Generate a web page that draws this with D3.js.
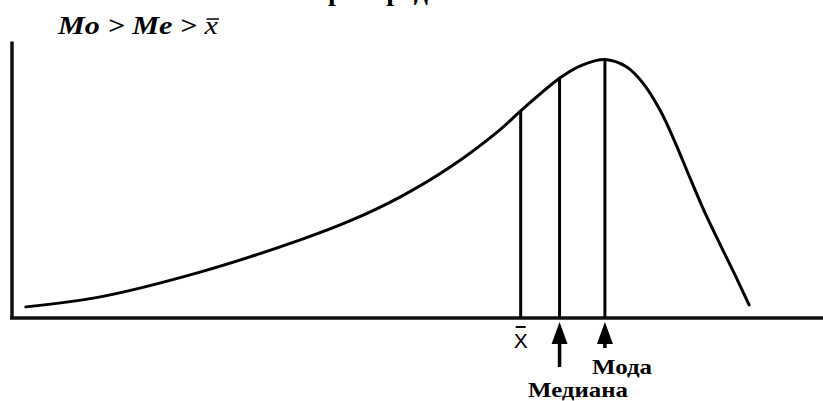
<!DOCTYPE html>
<html>
<head>
<meta charset="utf-8">
<script src="https://cdn.jsdelivr.net/npm/d3@7.9.0/dist/d3.min.js"></script>
<style>
  html, body { margin: 0; padding: 0; background: #fff; }
  svg { display: block; }
</style>
</head>
<body>
<svg id="chart" width="823" height="401"></svg>
<script>
// curve of a left-skewed distribution (x in 0..100, density in 0..1)
const curveX = [1.7, 10.9, 23.2, 35.6, 41.7, 47.9, 54.1, 60.2, 62.8, 67.8, 70.4, 73.2, 75.9, 77.9, 80.0, 81.85, 83.7, 85.56, 87.4, 89.26, 91.0];
const curveY = [0.04, 0.076, 0.165, 0.281, 0.349, 0.435, 0.543, 0.676, 0.745, 0.867, 0.91, 0.93, 0.903, 0.845, 0.748, 0.633, 0.504, 0.378, 0.266, 0.155, 0.047];

// mean, median, mode
const markNames = ["mean", "median", "mode"];
const markX = [62.8, 67.6, 73.2];
const markTop = [0.745, 0.867, 0.93];

const title = "Mo > Me > ";
const topWord = "распределения";
const medianLabel = "Медиана";
const modeLabel = "Мода";

const svg = d3.select("#chart");
const x = d3.scaleLinear().domain([0, 100]).range([12, 822]);
const y = d3.scaleLinear().domain([0, 1]).range([318, 40]);

// cut-off heading at the very top
svg.append("text")
  .attr("x", 328).attr("y", 0)
  .attr("font-family", "Liberation Serif, serif")
  .attr("font-weight", "bold")
  .attr("font-size", 28)
  .text(topWord);

// Mo > Me > x̄
const t = svg.append("text")
  .attr("x", 58).attr("y", 34)
  .attr("font-family", "Liberation Serif, serif")
  .attr("font-weight", "bold")
  .attr("font-style", "italic")
  .attr("font-size", 26)
  .attr("textLength", 160)
  .attr("lengthAdjust", "spacingAndGlyphs");
t.append("tspan").text(title);
t.append("tspan").attr("font-weight", "normal").text("x");
const ext = t.node().getExtentOfChar(title.length);
svg.append("line")
  .attr("x1", ext.x + 2).attr("x2", ext.x + ext.width + 1)
  .attr("y1", 19).attr("y2", 19)
  .attr("stroke", "#000").attr("stroke-width", 1.5);

// axes
svg.append("line")
  .attr("x1", x(0)).attr("x2", x(0))
  .attr("y1", y(0.995)).attr("y2", y(0))
  .attr("stroke", "#111").attr("stroke-width", 3.5);
svg.append("line")
  .attr("x1", x(0) - 2).attr("x2", 823)
  .attr("y1", y(0)).attr("y2", y(0))
  .attr("stroke", "#111").attr("stroke-width", 3.5);

// curve
const line = d3.line()
  .x((d, i) => x(curveX[i]))
  .y((d, i) => y(curveY[i]))
  .curve(d3.curveCatmullRom.alpha(0.5));
svg.append("path")
  .datum(curveX)
  .attr("d", line)
  .attr("fill", "none")
  .attr("stroke", "#000")
  .attr("stroke-width", 3)
  .attr("stroke-linecap", "round");

// vertical lines
svg.selectAll(".mark")
  .data(markNames)
  .join("line")
  .attr("class", "mark")
  .attr("x1", (d, i) => x(markX[i])).attr("x2", (d, i) => x(markX[i]))
  .attr("y1", (d, i) => y(markTop[i])).attr("y2", y(0))
  .attr("stroke", "#000").attr("stroke-width", 3);

// x̄ label
const mx = x(markX[0]);
svg.append("text")
  .attr("x", mx).attr("y", 348)
  .attr("text-anchor", "middle")
  .attr("font-family", "Liberation Sans, Arial, sans-serif")
  .attr("font-size", 21)
  .text("X");
svg.append("line")
  .attr("x1", mx - 5).attr("x2", mx + 5)
  .attr("y1", 327).attr("y2", 327)
  .attr("stroke", "#000").attr("stroke-width", 2);

// arrows under median and mode
const arrowBottom = [367, 348];
[1, 2].forEach((k, j) => {
  const ax = x(markX[k]);
  svg.append("path")
    .attr("d", `M${ax},322 L${ax - 8},344 L${ax + 8},344 Z`)
    .attr("fill", "#000");
  svg.append("line")
    .attr("x1", ax).attr("x2", ax)
    .attr("y1", 340).attr("y2", arrowBottom[j])
    .attr("stroke", "#000").attr("stroke-width", 3.5);
});

svg.append("text")
  .attr("x", 592).attr("y", 374)
  .attr("font-family", "Liberation Serif, serif")
  .attr("font-weight", "bold")
  .attr("font-size", 21)
  .attr("textLength", 60)
  .attr("lengthAdjust", "spacingAndGlyphs")
  .text(modeLabel);

svg.append("text")
  .attr("x", 528).attr("y", 397)
  .attr("font-family", "Liberation Serif, serif")
  .attr("font-weight", "bold")
  .attr("font-size", 21)
  .attr("textLength", 100)
  .attr("lengthAdjust", "spacingAndGlyphs")
  .text(medianLabel);
</script>
</body>
</html>
